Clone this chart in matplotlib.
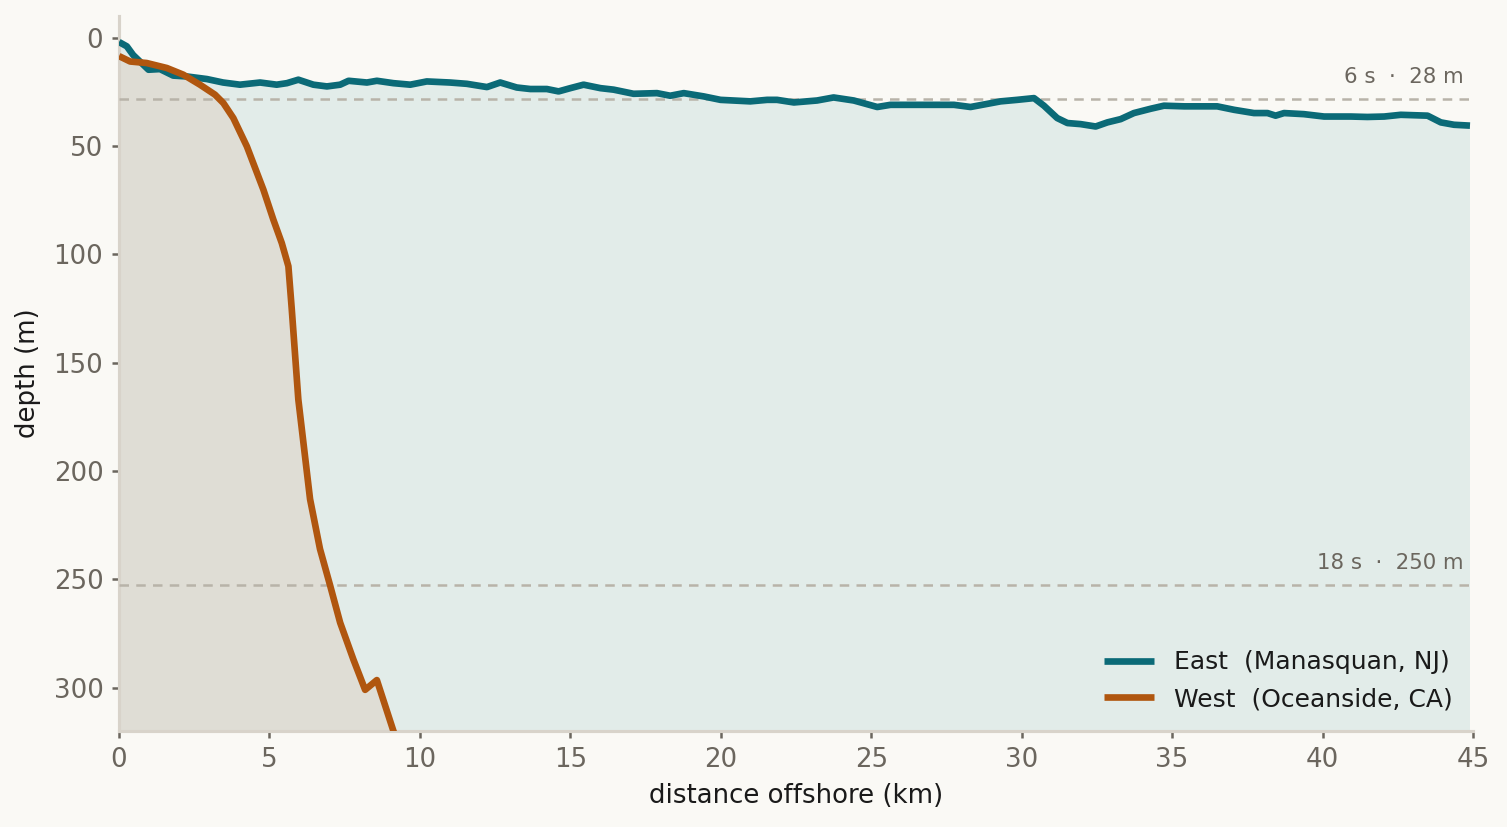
import matplotlib
matplotlib.use("Agg")
import matplotlib.pyplot as plt

# East (Manasquan, NJ) profile: distance (km), depth (m)
east_x = [0.0, 0.26, 0.47, 0.98, 1.36, 1.8, 2.25, 2.92, 3.46, 4.02, 4.69, 5.24, 5.58, 5.96,
          6.46, 6.91, 7.35, 7.63, 8.24, 8.57, 9.12, 9.68, 10.23, 11.0, 11.56, 12.23, 12.67,
          13.22, 13.67, 14.22, 14.61, 15.0, 15.44, 16.0, 16.44, 17.1, 17.88, 18.32, 18.77,
          19.43, 19.99, 20.98, 21.54, 21.87, 22.43, 23.2, 23.75, 24.42, 25.2, 25.64, 26.53,
          27.75, 28.3, 29.3, 29.85, 30.41, 30.74, 31.18, 31.52, 31.96, 32.46, 32.85, 33.29,
          33.73, 34.29, 34.73, 35.4, 36.5, 37.06, 37.72, 38.17, 38.44, 38.72, 39.38, 40.05,
          40.94, 41.49, 42.05, 42.6, 43.49, 43.93, 44.37, 44.9]
east_d = [2.0, 4.0, 8.0, 14.8, 14.5, 17.5, 17.9, 19.1, 20.7, 21.7, 20.7, 21.7, 21.0, 19.4,
          21.7, 22.5, 21.7, 19.9, 20.7, 19.9, 21.0, 21.7, 20.2, 20.7, 21.3, 22.8, 20.7,
          23.0, 23.7, 23.7, 24.8, 23.3, 21.7, 23.3, 24.0, 25.9, 25.6, 26.8, 25.6,
          27.1, 28.7, 29.4, 28.7, 28.7, 29.9, 29.0, 27.6, 29.0, 32.0, 31.0, 31.0,
          31.0, 32.0, 29.4, 28.7, 27.9, 31.4, 37.1, 39.4, 39.9, 41.0, 39.1, 37.6,
          34.8, 32.8, 31.4, 31.7, 31.7, 33.3, 34.8, 34.8, 36.0, 34.8, 35.3, 36.4,
          36.4, 36.6, 36.4, 35.6, 36.0, 39.1, 40.2, 40.6]

# West (Oceanside, CA) profile
west_x = [0.0, 0.37, 0.92, 1.59, 2.14, 2.69, 3.19, 3.47, 3.8, 4.25, 4.8, 5.13, 5.41, 5.63,
          5.74, 5.96, 6.35, 6.68, 7.02, 7.35, 7.79, 8.18, 8.57, 9.12, 9.6]
west_d = [8.5, 11.0, 11.7, 14.0, 17.1, 21.7, 26.3, 30.2, 37.1, 50.2, 70.2, 84.0, 94.8, 105.5,
          125.0, 167.0, 213.0, 236.0, 253.0, 270.0, 287.0, 301.0, 296.5, 320.0, 338.0]

# Reference depths: half deep-water wavelength for 6 s and 18 s swell
ref_depths = [28.1, 252.5]
ref_labels = ["6 s  ·  28 m", "18 s  ·  250 m"]

BG = "#faf9f5"
TEAL = "#0b6a77"
ORANGE = "#b0560f"

fig = plt.figure(figsize=(1507 / 150, 827 / 150), dpi=150, facecolor=BG)
ax = fig.add_axes([119 / 1507, 1 - 731 / 827, (1473 - 119) / 1507, (731 - 16) / 827])
ax.set_facecolor(BG)

ax.fill_between(east_x, east_d, 2000, color="#e2ece9", lw=0, zorder=1)
ax.fill_between(west_x, west_d, 2000, color="#dfddd5", lw=0, zorder=2)

for d, lab in zip(ref_depths, ref_labels):
    ax.axhline(d, color="#b8b3a9", lw=1.2, ls=(0, (3.8, 2.9)), zorder=3)
    ax.text(44.7, d - 5.5, lab, ha="right", va="bottom", fontsize=10.2, color="#6b665e", zorder=5)

ax.plot(east_x, east_d, color=TEAL, lw=3.2, label="East  (Manasquan, NJ)", zorder=4,
        solid_joinstyle="round", solid_capstyle="butt")
ax.plot(west_x, west_d, color=ORANGE, lw=3.2, label="West  (Oceanside, CA)", zorder=4,
        solid_joinstyle="round", solid_capstyle="butt")

ax.set_xlim(0, 45)
ax.set_ylim(320, -10)
ax.set_xticks(range(0, 46, 5))
ax.set_yticks([0, 50, 100, 150, 200, 250, 300])

for s in ["top", "right"]:
    ax.spines[s].set_visible(False)
for s in ["left", "bottom"]:
    ax.spines[s].set_color("#d8d3ca")
    ax.spines[s].set_linewidth(1.5)

ax.tick_params(axis="both", colors="#6b665e", labelsize=12.5, length=3.5, width=1.2, pad=4)
ax.set_xlabel("distance offshore (km)", fontsize=12.5, color="#1a1a1a", labelpad=5)
ax.set_ylabel("depth (m)", fontsize=12.5, color="#1a1a1a", labelpad=6)

leg = ax.legend(loc="lower right", frameon=False, fontsize=12, handlelength=2.0,
                borderaxespad=0.4)
for t in leg.get_texts():
    t.set_color("#1a1a1a")

fig.savefig("out.png", dpi=150, facecolor=BG)
